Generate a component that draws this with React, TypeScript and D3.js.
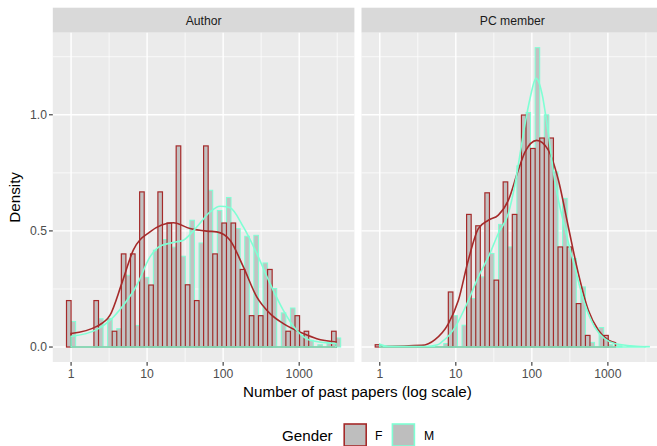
import React from "react";
import * as d3 from "d3";

// ---- data (densities per log10 bin) ----
const panels = ["Author", "PC member"];
const genders = ["F", "M"];
const binWidthLog = 0.1202; // bin width in log10 units, 30 bins starting at 1 paper
const binCount = 30;

const authorF = [0.2, 0, 0, 0.2, 0, 0.068, 0.401, 0.401, 0.668, 0.267, 0.668, 0.534, 0.866, 0.268, 0.2, 0.866, 0.401, 0.534, 0.534, 0.334, 0.135, 0.135, 0.334, 0, 0.068, 0.135, 0.068, 0, 0, 0.068];
const authorM = [0.11, 0, 0, 0.122, 0.122, 0.079, 0.309, 0.093, 0.3, 0.417, 0.463, 0.43, 0.391, 0.546, 0.448, 0.675, 0.588, 0.644, 0.51, 0.477, 0.481, 0.362, 0.252, 0.147, 0.168, 0.05, 0.029, 0.01, 0.02, 0.039];
const pcF = [0.01, 0, 0, 0, 0, 0, 0, 0, 0.237, 0, 0.571, 0.522, 0.664, 0.288, 0.711, 0.571, 0.999, 0.855, 0.9, 0.9, 0.431, 0.431, 0.187, 0.05, 0, 0.05, 0, 0, 0, 0];
const pcM = [0.006, 0, 0, 0, 0, 0, 0, 0.015, 0.135, 0.094, 0.209, 0.302, 0.403, 0.528, 0.431, 0.78, 1.01, 1.289, 1.0, 0.754, 0.64, 0.381, 0.259, 0.02, 0.084, 0.01, 0.005, 0, 0, 0.003];

// density curves: [log10(papers), density]
const authorDensF: [number, number][] = [
  [0, 0.058], [0.337, 0.089], [0.512, 0.137], [0.666, 0.273], [0.818, 0.417], [1.038, 0.496],
  [1.345, 0.535], [1.564, 0.51], [1.784, 0.499], [1.916, 0.496], [2.091, 0.46], [2.266, 0.345],
  [2.442, 0.216], [2.617, 0.144], [2.792, 0.101], [3.055, 0.058], [3.232, 0.036], [3.485, 0.022],
];
const authorDensM: [number, number][] = [
  [0, 0.046], [0.337, 0.075], [0.512, 0.115], [0.688, 0.18], [0.864, 0.266], [1.038, 0.388],
  [1.17, 0.434], [1.39, 0.453], [1.477, 0.46], [1.653, 0.517], [1.828, 0.582], [1.959, 0.606],
  [2.091, 0.6], [2.266, 0.517], [2.442, 0.403], [2.617, 0.273], [2.792, 0.158], [2.967, 0.072],
  [3.142, 0.029], [3.485, 0.015],
];
const pcDensF: [number, number][] = [
  [0, 0.002], [0.551, 0.007], [0.726, 0.032], [0.901, 0.1], [1.033, 0.2], [1.164, 0.374],
  [1.296, 0.51], [1.428, 0.546], [1.559, 0.568], [1.691, 0.632], [1.822, 0.762], [1.911, 0.84],
  [2.064, 0.89], [2.217, 0.848], [2.349, 0.719], [2.48, 0.517], [2.612, 0.316], [2.743, 0.158],
  [2.875, 0.072], [3.007, 0.029], [3.1, 0.018],
];
const pcDensM: [number, number][] = [
  [0, 0.012], [0.108, 0.003], [0.6, 0.002], [0.76, 0.01], [0.816, 0.022], [0.992, 0.086],
  [1.164, 0.2], [1.296, 0.302], [1.428, 0.388], [1.559, 0.489], [1.691, 0.575], [1.778, 0.7],
  [1.844, 0.83], [1.91, 0.96], [1.976, 1.07], [2.055, 1.157], [2.134, 1.09], [2.199, 0.96],
  [2.3, 0.718], [2.431, 0.517], [2.563, 0.345], [2.694, 0.187], [2.826, 0.086], [2.957, 0.036],
  [3.088, 0.015], [3.3, 0.005], [3.485, 0.001],
];

const xTickValues = [1, 10, 100, 1000];
const xTickLabels = ["1", "10", "100", "1000"];
const xMinorLog = [0.5, 1.5, 2.5, 3.5];
const yTickValues = [0, 0.5, 1.0];
const yTickLabels = ["0.0", "0.5", "1.0"];
const yMinor = [0.25, 0.75, 1.25];

const binsByPanel = [[authorF, authorM], [pcF, pcM]];
const densByPanel = [[authorDensF, authorDensM], [pcDensF, pcDensM]];

// ---- styles ----
const W = 657, H = 446;
const colF = "#A52A2A";
const colM = "#7FFFD4";
const font = "'Liberation Sans', Arial, Helvetica, sans-serif";
const panelX0 = [52.8, 361.5];
const panelW = 301.6;
const panelTop = 32.7, panelBottom = 362;
const stripTop = 7.7;

export default function App() {
  const lo = -binWidthLog / 2;
  const hi = (binCount - 0.5) * binWidthLog;
  const ex = (hi - lo) * 0.05;
  const yMax = d3.max([...pcM, ...authorF, ...authorM, ...pcF]) as number;
  const ey = yMax * 0.05;
  const y = d3.scaleLinear().domain([-ey, yMax + ey]).range([panelBottom, panelTop]);
  const colors = [colF, colM];
  const strokeW = [1.2, 1.0];
  const drawOrder = [1, 0];

  return (
    <svg width={W} height={H} style={{ display: "block", position: "absolute", left: 0, top: 0 }} fontFamily={font}>
      <rect width={W} height={H} fill="#fff" />
      {panels.map((name, p) => {
        const x = d3.scaleLinear().domain([lo - ex, hi + ex]).range([panelX0[p], panelX0[p] + panelW]);
        const bw = x(binWidthLog) - x(0);
        const line = d3.line<[number, number]>().x((d) => x(d[0])).y((d) => y(d[1])).curve(d3.curveMonotoneX);
        return (
          <g key={name}>
            <rect x={panelX0[p]} y={stripTop} width={panelW} height={panelTop - stripTop} fill="#D9D9D9" />
            <text x={panelX0[p] + panelW / 2} y={24.5} textAnchor="middle" fontSize={12.2} fill="#1A1A1A">{name}</text>
            <rect x={panelX0[p]} y={panelTop} width={panelW} height={panelBottom - panelTop} fill="#EBEBEB" />
            {yMinor.map((v) => (
              <line key={"ym" + v} x1={panelX0[p]} x2={panelX0[p] + panelW} y1={y(v)} y2={y(v)} stroke="#fff" strokeWidth={0.7} />
            ))}
            {xMinorLog.map((v) => (
              <line key={"xm" + v} x1={x(v)} x2={x(v)} y1={panelTop} y2={panelBottom} stroke="#fff" strokeWidth={0.7} />
            ))}
            {yTickValues.map((v) => (
              <line key={"yM" + v} x1={panelX0[p]} x2={panelX0[p] + panelW} y1={y(v)} y2={y(v)} stroke="#fff" strokeWidth={1.4} />
            ))}
            {xTickValues.map((v) => (
              <line key={"xM" + v} x1={x(Math.log10(v))} x2={x(Math.log10(v))} y1={panelTop} y2={panelBottom} stroke="#fff" strokeWidth={1.4} />
            ))}
            {drawOrder.map((gi) =>
              binsByPanel[p][gi].map((d, k) => {
                if (d <= 0) return null;
                const c = x(k * binWidthLog);
                const x0 = gi === 0 ? c - bw / 2 : c;
                return (
                  <rect key={genders[gi] + k} x={x0} y={y(d)} width={bw / 2} height={y(0) - y(d)}
                    fill="#BEBEBE" fillOpacity={0.9} stroke={colors[gi]} strokeWidth={strokeW[gi]} />
                );
              })
            )}
            {genders.map((g, gi) => {
              const pts = densByPanel[p][gi];
              const path = line(pts) +
                `L${x(pts[pts.length - 1][0])},${y(0)}L${x(pts[0][0])},${y(0)}Z`;
              return <path key={"d" + g} d={path} fill="none" stroke={colors[gi]} strokeWidth={1.6} />;
            })}
            {xTickValues.map((v, i) => (
              <g key={"xt" + v}>
                <line x1={x(Math.log10(v))} x2={x(Math.log10(v))} y1={panelBottom} y2={panelBottom + 3.8} stroke="#333" strokeWidth={1.1} />
                <text x={x(Math.log10(v))} y={378} textAnchor="middle" fontSize={12.2} fill="#4D4D4D">{xTickLabels[i]}</text>
              </g>
            ))}
          </g>
        );
      })}
      {yTickValues.map((v, i) => (
        <g key={"yt" + v}>
          <line x1={panelX0[0] - 3.8} x2={panelX0[0]} y1={y(v)} y2={y(v)} stroke="#333" strokeWidth={1.1} />
          <text x={47} y={y(v) + 4.4} textAnchor="end" fontSize={12.2} fill="#4D4D4D">{yTickLabels[i]}</text>
        </g>
      ))}
      <text transform={`translate(19.5,${(panelTop + panelBottom) / 2}) rotate(-90)`} textAnchor="middle" fontSize={15.2} fill="#000">Density</text>
      <text x={357.5} y={397} textAnchor="middle" fontSize={15.2} fill="#000">Number of past papers (log scale)</text>
      <text x={282} y={441.2} fontSize={15.2} fill="#000">Gender</text>
      {genders.map((g, gi) => (
        <g key={"lg" + g}>
          <rect x={344.2 + gi * 48.2} y={424} width={22} height={22} fill="#BEBEBE" stroke={colors[gi]} strokeWidth={1.6} />
          <text x={375 + gi * 49} y={440.3} fontSize={12.2} fill="#000">{g}</text>
        </g>
      ))}
    </svg>
  );
}
